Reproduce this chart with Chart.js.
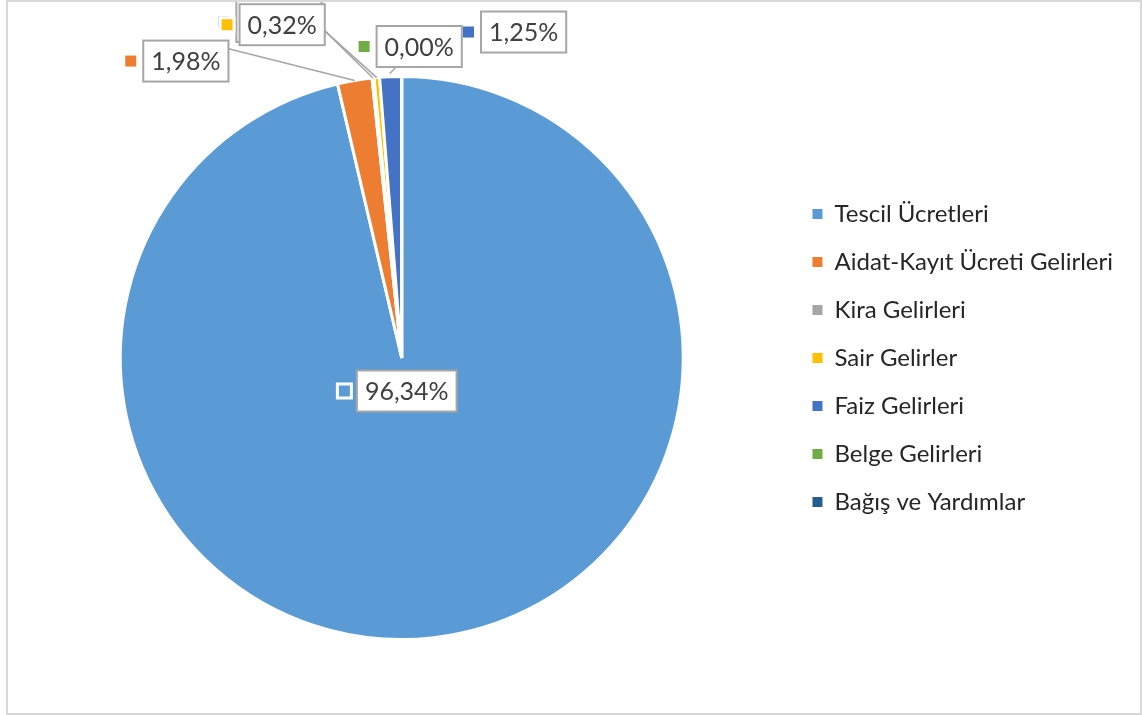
<!DOCTYPE html>
<html>
<head>
<meta charset="utf-8">
<script src="https://cdn.jsdelivr.net/npm/chart.js@4.4.0/dist/chart.umd.min.js"></script>
<style>
html, body { margin: 0; padding: 0; background: #fff; }
#wrap { position: relative; width: 1142px; height: 715px; }
#frame { position: absolute; left: 6px; top: 0; width: 1132px; height: 711px; border: 2px solid #d9d9d9; pointer-events: none; }
canvas { position: absolute; left: 0; top: 0; }
</style>
</head>
<body>
<div id="wrap">
  <canvas id="pieChart" width="1142" height="715"></canvas>
  <div id="frame"></div>
</div>
<script>
// data (percent shares)
const categories = ['Tescil Ücretleri', 'Aidat-Kayıt Ücreti Gelirleri', 'Kira Gelirleri', 'Sair Gelirler', 'Faiz Gelirleri', 'Belge Gelirleri', 'Bağış ve Yardımlar'];
const shares = [96.34, 1.98, 0.11, 0.32, 1.25, 0.004, null];
const colors = ['#5B9BD5', '#ED7D31', '#A5A5A5', '#FFC000', '#4472C4', '#70AD47', '#255E91'];

// where each data label sits relative to its slice (dx/dy = box centre offset, lead = leader attach point on box)
const labelPlacement = [
    { inside: true, dx: 5, dy: 33, lead: null },
    { dx: -168.8, dy: -19.4, lead: [1, 0.2] },
    { dx: -94, dy: -56.5, lead: [1, 0.65] },
    { dx: -94.6, dy: -52.9, lead: [1, 0.65] },
    { dx: 133, dy: -44.7, lead: null },
    { dx: 17.5, dy: -30, lead: [0.23, 1], shiftX: -12, shiftY: -3 },
    null
];

// draws Excel-style boxed data labels with a colour key and leader lines
const pieLabels = {
    id: 'pieLabels',
    afterDatasetsDraw(chart) {
        const ctx = chart.ctx;
        const meta = chart.getDatasetMeta(0);
        const values = chart.data.datasets[0].data;
        const total = values.reduce((s, v) => s + (v || 0), 0);
        ctx.save();
        ctx.font = '25px Lato';
        const items = [];
        meta.data.forEach((arc, i) => {
            const place = labelPlacement[i];
            if (values[i] == null || !place) return;
            const p = arc.getProps(['x', 'y', 'startAngle', 'endAngle', 'outerRadius'], true);
            const mid = (p.startAngle + p.endAngle) / 2;
            let ax = p.x, ay = p.y;
            if (!place.inside) {
                ax = p.x + Math.cos(mid) * p.outerRadius;
                ay = p.y + Math.sin(mid) * p.outerRadius;
            }
            const text = (values[i] / total * 100).toFixed(2).replace('.', ',') + '%';
            const w = ctx.measureText(text).width + 16;
            const h = 41;
            const cx = ax + place.dx, cy = ay + place.dy;
            items.push({ i, text, w, h, cx, cy, left: cx - w / 2, top: cy - h / 2,
                ax: ax + (place.shiftX || 0), ay: ay + (place.shiftY || 0), lead: place.lead });
        });

        // leader lines first
        ctx.strokeStyle = '#a6a6a6';
        ctx.lineWidth = 1.5;
        items.forEach(it => {
            if (!it.lead) return;
            ctx.beginPath();
            ctx.moveTo(it.ax, it.ay);
            ctx.lineTo(it.left + it.w * it.lead[0], it.top + it.h * it.lead[1]);
            ctx.stroke();
        });

        items.forEach(it => {
            // colour key
            const mx = it.left - 7 - 5.5;
            ctx.fillStyle = '#fff';
            ctx.fillRect(mx - 8.5, it.cy - 8.5, 17, 17);
            ctx.fillStyle = colors[it.i];
            ctx.fillRect(mx - 5.5, it.cy - 5.5, 11, 11);
            // box
            ctx.fillStyle = '#fff';
            ctx.fillRect(it.left, it.top, it.w, it.h);
            ctx.strokeStyle = '#a6a6a6';
            ctx.lineWidth = 2;
            ctx.strokeRect(it.left, it.top, it.w, it.h);
            // text
            ctx.fillStyle = '#404040';
            ctx.textAlign = 'center';
            ctx.textBaseline = 'middle';
            ctx.fillText(it.text, it.cx, it.cy + 1);
        });
        ctx.restore();
    }
};

const defaultLabels = Chart.overrides.pie.plugins.legend.labels.generateLabels;

const ctx = document.getElementById('pieChart').getContext('2d');
const chart = new Chart(ctx, {
    type: 'pie',
    data: {
        labels: categories,
        datasets: [{
            data: shares,
            backgroundColor: colors,
            borderColor: '#ffffff',
            borderWidth: 3
        }]
    },
    options: {
        responsive: false,
        animation: false,
        layout: {
            padding: { left: 15, right: 19, top: 75, bottom: 74 }
        },
        plugins: {
            tooltip: { enabled: false },
            legend: {
                position: 'right',
                labels: {
                    boxWidth: 10,
                    boxHeight: 10,
                    padding: 24,
                    color: '#262626',
                    font: { family: 'Lato', size: 24 },
                    generateLabels: function (c) {
                        return defaultLabels(c).map(l => Object.assign(l, { lineWidth: 0, strokeStyle: 'rgba(0,0,0,0)' }));
                    }
                }
            }
        }
    },
    plugins: [pieLabels]
});
</script>
</body>
</html>
